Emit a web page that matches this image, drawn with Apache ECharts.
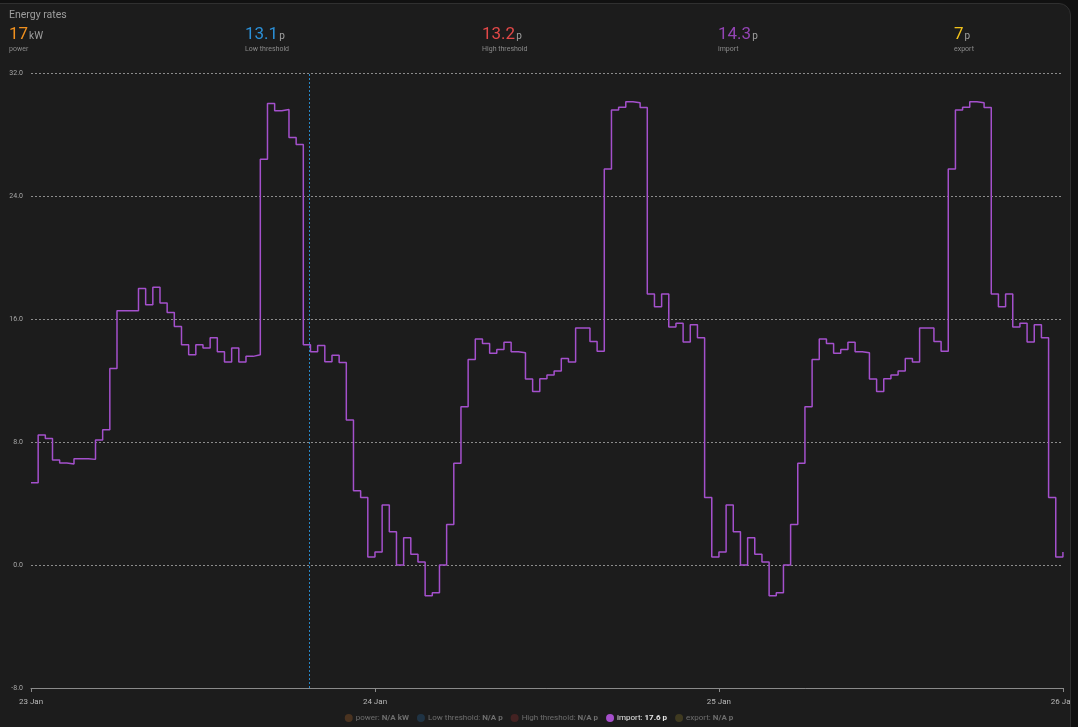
<!DOCTYPE html>
<html>
<head>
<meta charset="utf-8">
<script src="https://cdn.jsdelivr.net/npm/echarts@6/dist/echarts.min.js"></script>
<style>
  html, body { margin:0; padding:0; width:1078px; height:727px; background:#111111; overflow:hidden; font-family: Roboto, "Noto Sans", sans-serif; }
  #card { position:absolute; left:-12px; top:3px; width:1081px; height:740px; border:1px solid #303030; border-radius:12px; background:#1c1c1c; overflow:hidden; }
  #inner { position:absolute; left:11px; top:-4px; width:1078px; height:727px; }
  #chart { position:absolute; left:0; top:0; width:1078px; height:727px; }
  .title { position:absolute; left:9px; top:9px; font-size:10.5px; line-height:11px; color:#9e9e9e; }
  .stat { position:absolute; top:24px; white-space:nowrap; }
  .stat .v { font-size:17px; line-height:17px; }
  .stat .u { font-size:10px; color:#a0a0a0; margin-left:1px; }
  .stat .l { font-size:7px; line-height:8px; color:#8a8a8a; margin-top:2px; }
</style>
</head>
<body>
<div id="card"><div id="inner">
  <div id="chart"></div>
  <div class="title">Energy rates</div>
  <div id="stats"></div>
</div></div>
<script>
// ---- data ----
const seriesNames = ['power', 'Low threshold', 'High threshold', 'import', 'export'];
const headerValues = ['17', '13.1', '13.2', '14.3', '7'];
const headerUnits = ['kW', 'p', 'p', 'p', 'p'];
const headerColors = ['#f0901e', '#2b8fd6', '#e24848', '#9344b4', '#f1c21b'];
const legendValues = ['N/A kW', 'N/A p', 'N/A p', '17.6 p', 'N/A p'];
const legendIconColors = ['#4a3320', '#1f3344', '#432222', '#a64fcc', '#3f3a20'];
const yTicks = [-8, 0, 8, 16, 24, 32];
const startTime = new Date(2025, 0, 23, 0, 0).getTime();
const endTime = new Date(2025, 0, 26, 0, 0).getTime();
const nowTime = new Date(2025, 0, 23, 19, 24).getTime();
const slotMinutes = 30;
const importPrices = [
  5.35, 8.46, 8.22, 6.83, 6.63, 6.57, 6.91, 6.91, 6.87, 8.13, 8.80, 12.78,
  16.54, 16.54, 16.54, 17.98, 16.93, 18.07, 17.04, 16.43, 15.52, 14.33, 13.67, 14.33,
  14.11, 14.78, 13.87, 13.20, 14.11, 13.20, 13.57, 13.67, 26.39, 30.02, 29.54, 29.63,
  27.80, 27.35, 14.33, 13.87, 14.28, 13.22, 13.65, 13.17, 9.43, 4.83, 4.39, 0.52,
  0.85, 3.91, 2.17, 0.00, 1.78, 0.70, 0.20, -2.00, -1.80, 0.00, 2.63, 6.61,
  10.30, 13.37, 14.70, 14.41, 13.78, 14.02, 14.48, 13.87, 13.80, 12.09, 11.28, 12.11,
  12.35, 12.61, 13.43, 13.20, 15.41, 15.41, 14.54, 13.91, 25.76, 29.59, 29.78, 30.13,
  30.07, 29.76, 17.63, 16.80, 17.63, 15.48, 15.72, 14.50, 15.63, 14.78, 4.39, 0.52,
  0.85, 3.91, 2.17, 0.00, 1.78, 0.70, 0.20, -2.00, -1.80, 0.00, 2.63, 6.61,
  10.30, 13.37, 14.70, 14.41, 13.78, 14.02, 14.48, 13.87, 13.80, 12.09, 11.28, 12.11,
  12.35, 12.61, 13.43, 13.20, 15.41, 15.41, 14.54, 13.91, 25.76, 29.59, 29.78, 30.13,
  30.07, 29.76, 17.63, 16.80, 17.63, 15.48, 15.72, 14.50, 15.63, 14.78, 4.39, 0.52,
  0.85
];
const monthNames = ['Jan','Feb','Mar','Apr','May','Jun','Jul','Aug','Sep','Oct','Nov','Dec'];

// ---- header ----
const statX = [9, 245, 482, 718, 954];
const statsEl = document.getElementById('stats');
seriesNames.forEach((n, i) => {
  const d = document.createElement('div');
  d.className = 'stat';
  d.style.left = statX[i] + 'px';
  d.innerHTML = '<span class="v" style="color:' + headerColors[i] + '">' + headerValues[i] +
    '</span><span class="u">' + headerUnits[i] + '</span><div class="l">' + n + '</div>';
  statsEl.appendChild(d);
});

// ---- chart ----
const importData = importPrices.map((v, i) => [startTime + i * slotMinutes * 60000, v]);
const chart = echarts.init(document.getElementById('chart'), null, { renderer: 'canvas' });
const activeIdx = 3;
chart.setOption({
  backgroundColor: 'transparent',
  animation: false,
  textStyle: { fontFamily: 'Roboto' },
  grid: { left: 31, right: 14, top: 73, bottom: 39, containLabel: false },
  legend: {
    left: 'center', top: 709, icon: 'circle', itemWidth: 8, itemHeight: 8, itemGap: 8,
    selectedMode: false,
    textStyle: {
      fontSize: 8, color: '#6e6e6e', padding: [0, 0, 0, -2],
      rich: {
        d: { fontSize: 8, fontWeight: 'bold', color: '#6e6e6e' },
        a: { fontSize: 8, fontWeight: 'bold', color: '#e6e6e6' }
      }
    },
    formatter: function (name) {
      const i = seriesNames.indexOf(name);
      return name + ': {' + (i === activeIdx ? 'a' : 'd') + '|' + legendValues[i] + '}';
    },
    data: seriesNames.map((n, i) => ({
      name: n,
      itemStyle: { color: legendIconColors[i] },
      textStyle: { color: i === activeIdx ? '#e6e6e6' : '#6e6e6e' }
    }))
  },
  xAxis: {
    type: 'time', min: startTime, max: endTime,
    minInterval: 24 * 3600 * 1000, maxInterval: 24 * 3600 * 1000,
    axisLine: { show: true, onZero: false, lineStyle: { color: '#8a8a8a', width: 1 } },
    axisTick: { show: true, length: 4, lineStyle: { color: '#8a8a8a' } },
    splitLine: { show: false },
    axisLabel: {
      fontSize: 8, color: '#b8b8b8', margin: 10, hideOverlap: false, showMaxLabel: true, showMinLabel: true,
      formatter: function (v) { const d = new Date(v); return d.getDate() + ' ' + monthNames[d.getMonth()]; }
    }
  },
  yAxis: {
    type: 'value', min: yTicks[0], max: yTicks[yTicks.length - 1], interval: 8,
    axisLine: { show: false }, axisTick: { show: false },
    axisLabel: { fontSize: 7, color: '#a8a8a8', margin: 8, formatter: v => v.toFixed(1) },
    splitLine: { show: true, lineStyle: { color: '#8c8c8c', type: [2, 2], width: 1 } }
  },
  series: seriesNames.map((n, i) => {
    if (i !== activeIdx) {
      return { name: n, type: 'line', data: [], itemStyle: { color: legendIconColors[i] } };
    }
    return {
      name: n, type: 'line', step: 'end', showSymbol: false, data: importData,
      itemStyle: { color: '#a64fcc' },
      lineStyle: { color: '#a450cc', width: 1.5 },
      markLine: {
        silent: true, symbol: ['none', 'none'], label: { show: false },
        lineStyle: { color: '#2a86c4', type: [2, 2], width: 1 },
        data: [{ xAxis: nowTime }]
      }
    };
  })
});
</script>
</body>
</html>
